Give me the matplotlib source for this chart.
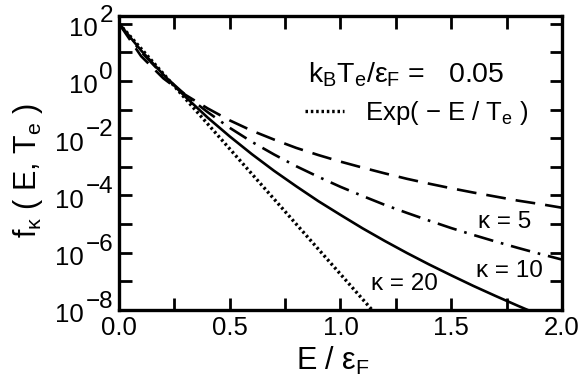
import numpy as np
import matplotlib
matplotlib.use("Agg")
import matplotlib.pyplot as plt
from matplotlib.lines import Line2D

plt.rcParams['font.family'] = ['Liberation Sans', 'DejaVu Sans']
plt.rcParams['mathtext.fontset'] = 'custom'
plt.rcParams['mathtext.rm'] = 'Liberation Sans'
plt.rcParams['mathtext.it'] = 'Liberation Sans'
plt.rcParams['mathtext.default'] = 'regular'

# energies E / eps_F
E = [0.0, 0.1, 0.2, 0.3, 0.4, 0.5, 0.6, 0.7, 0.8, 0.9, 1.0,
     1.1, 1.2, 1.3, 1.4, 1.5, 1.6, 1.7, 1.8, 1.9, 2.0]
# log10 f values, estimated from the plot
logf_k5 = [2.00, 0.86, 0.09, -0.49, -0.96, -1.38, -1.74, -2.05, -2.34, -2.59, -2.82,
           -3.03, -3.23, -3.42, -3.59, -3.75, -3.90, -4.04, -4.18, -4.30, -4.43]
logf_k10 = [2.00, 1.01, 0.20, -0.49, -1.09, -1.64, -2.13, -2.57, -2.98, -3.35, -3.70,
            -4.02, -4.33, -4.61, -4.88, -5.14, -5.38, -5.61, -5.83, -6.04, -6.24]
logf_k20 = [2.00, 1.06, 0.22, -0.56, -1.28, -1.94, -2.56, -3.14, -3.68, -4.20, -4.68,
            -5.15, -5.59, -6.01, -6.41, -6.79, -7.16, -7.51, -7.85, -8.18, -8.50]
E_exp = [0.0, 0.1, 0.2, 0.3, 0.4, 0.5, 0.6, 0.7, 0.8, 0.9, 1.0, 1.1, 1.2]
logf_exp = [2.0, 1.125, 0.25, -0.625, -1.5, -2.375, -3.25, -4.125, -5.0,
            -5.875, -6.75, -7.625, -8.5]

xticks = [0.0, 0.25, 0.5, 0.75, 1.0, 1.25, 1.5, 1.75, 2.0]
xlabels = ['0.0', '', '0.5', '', '1.0', '', '1.5', '', '2.0']
ydecades = [2, 1, 0, -1, -2, -3, -4, -5, -6, -7, -8]
ylabel_decades = [2, 0, -2, -4, -6, -8]

fig = plt.figure(figsize=(5.81, 3.89), dpi=100)
ax = fig.add_axes([0.2048, 0.2031, 0.7625, 0.7558])

lw = 1.9
ax.plot(E, 10.0 ** np.array(logf_k5), color='black', lw=lw, ls=(0, (7.5, 3.8)))
ax.plot(E, 10.0 ** np.array(logf_k10), color='black', lw=lw, ls=(0, (7.5, 3, 1, 3)))
ax.plot(E, 10.0 ** np.array(logf_k20), color='black', lw=lw, ls='-')
ax.plot(E_exp, 10.0 ** np.array(logf_exp), color='black', lw=2.4, ls=(0, (0.75, 0.85)))

ax.set_yscale('log')
ax.set_xlim(0, 2)
ax.set_ylim(1e-8, 10 ** 2.265)

ax.set_xticks(xticks)
ax.set_xticklabels(xlabels)
ax.set_yticks([10.0 ** d for d in ydecades])
ax.set_yticklabels([])
ax.yaxis.set_minor_locator(matplotlib.ticker.NullLocator())
ax.tick_params(which='both', direction='in', length=9, width=2,
               top=True, right=True, labelsize=18.5, pad=4)
for s in ax.spines.values():
    s.set_linewidth(2.4)

# y tick labels as "10" + full-size exponent
for d in ylabel_decades:
    ex = ax.annotate(str(d).replace('-', '\u2212'), xy=(0, 10.0 ** d),
                     xycoords=('axes fraction', 'data'),
                     xytext=(-4.3, 5.8), textcoords='offset points',
                     ha='right', va='center', fontsize=17.5)
    ax.annotate('10', xy=(0, 0.5), xycoords=ex, xytext=(-1.5, -9.7),
                textcoords='offset points', ha='right', va='center', fontsize=18.5)

ax.set_xlabel(r'E / ε$_F$', fontsize=22)
ax.xaxis.set_label_coords(0.483, -0.12)
ax.set_ylabel(r'f$_κ$ ( E, T$_e$ )', fontsize=22)
ax.yaxis.set_label_coords(-0.167, 0.476)

ax.text(0.427, 0.775, r'k$_B$T$_e$/ε$_F$ =   0.05', transform=ax.transAxes,
        ha='left', va='baseline', fontsize=20.5)

h = Line2D([], [], color='black', lw=2.4, ls=(0, (0.75, 0.85)))
ax.legend([h], [r'Exp( − E / T$_e$ )'], loc='center left',
          bbox_to_anchor=(0.42, 0.669), frameon=False, fontsize=18.5,
          handlelength=1.5, handletextpad=0.85, borderpad=0, borderaxespad=0)

ax.text(0.871, 0.299, 'κ = 5', transform=ax.transAxes, ha='center', va='center', fontsize=17.5)
ax.text(0.881, 0.1325, 'κ = 10', transform=ax.transAxes, ha='center', va='center', fontsize=17.5)
ax.text(0.644, 0.088, 'κ = 20', transform=ax.transAxes, ha='center', va='center', fontsize=17.5)

fig.savefig('out.png', dpi=100)
